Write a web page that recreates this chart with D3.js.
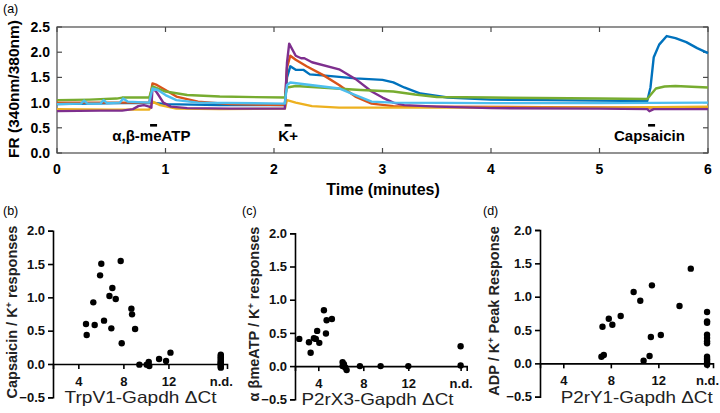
<!DOCTYPE html>
<html><head><meta charset="utf-8">
<script src="https://cdn.jsdelivr.net/npm/d3@7/dist/d3.min.js"></script>
<style>
body{margin:0;background:#fff;}
svg{display:block;font-family:"Liberation Sans",Arial,sans-serif;}
</style></head><body>
<svg id="c" width="720" height="413"></svg>
<script>
// ---------- Panel (a): ratio traces (time in minutes, FR value) ----------
const seriesNames = ["blue","orange","yellow","purple","green","lightblue"];
const seriesColors = ["#0072BD","#D95319","#EDB120","#7E2F8E","#77AC30","#4DBEEE"];
const traceBlue = [[0,0.97],[0.3,0.98],[0.6,0.99],[0.85,0.99],[0.88,1.0],[1.0,0.97],[1.5,0.95],[2.0,0.95],[2.1,0.95],[2.12,1.5],[2.15,1.72],[2.2,1.65],[2.27,1.65],[2.33,1.56],[2.5,1.53],[2.75,1.48],[3.0,1.45],[3.1,1.40],[3.2,1.3],[3.35,1.18],[3.6,1.10],[4.0,1.06],[4.5,1.05],[5.0,1.04],[5.44,1.03],[5.47,1.3],[5.5,1.9],[5.55,2.15],[5.62,2.32],[5.7,2.28],[5.8,2.2],[5.9,2.08],[6.0,1.98]];
const traceOrange = [[0,1.0],[0.5,1.0],[0.85,1.0],[0.88,1.38],[0.92,1.35],[1.0,1.25],[1.1,1.12],[1.3,1.02],[1.6,0.97],[2.1,0.95],[2.12,1.7],[2.15,1.93],[2.2,1.85],[2.3,1.72],[2.45,1.55],[2.6,1.35],[2.75,1.12],[2.9,0.98],[3.1,0.93],[3.5,0.92],[4.5,0.91],[5.45,0.9],[6.0,0.91]];
const traceYellow = [[0,0.87],[0.5,0.86],[0.85,0.86],[0.88,1.02],[0.95,0.95],[1.1,0.88],[1.5,0.87],[2.1,0.88],[2.12,1.05],[2.2,1.0],[2.35,0.93],[2.6,0.9],[3.0,0.9],[4,0.9],[5,0.9],[6,0.92]];
const tracePurple = [[0,0.83],[0.4,0.84],[0.6,0.84],[0.7,0.87],[0.75,0.93],[0.8,0.95],[0.85,0.92],[0.87,0.9],[0.88,1.3],[0.92,1.2],[0.98,1.0],[1.05,0.92],[1.2,0.89],[1.6,0.88],[2.1,0.88],[2.12,1.8],[2.14,2.17],[2.2,1.93],[2.25,1.88],[2.28,1.88],[2.35,1.8],[2.6,1.66],[2.75,1.47],[2.9,1.22],[3.0,1.1],[3.1,1.0],[3.2,0.95],[3.5,0.92],[4.0,0.89],[5.0,0.88],[5.44,0.87],[5.46,0.83],[5.5,0.87],[6.0,0.87]];
const traceGreen = [[0,1.05],[0.3,1.06],[0.55,1.08],[0.6,1.1],[0.85,1.1],[0.88,1.32],[1.0,1.22],[1.2,1.15],[1.5,1.12],[2.1,1.1],[2.12,1.3],[2.2,1.33],[2.5,1.29],[2.8,1.25],[3.1,1.22],[3.3,1.16],[3.5,1.11],[4.0,1.1],[5.0,1.08],[5.44,1.07],[5.47,1.15],[5.52,1.28],[5.6,1.32],[5.7,1.33],[6.0,1.3]];
const traceLightBlue = [[0,0.97],[0.22,0.98],[0.25,1.04],[0.28,0.98],[0.4,0.98],[0.43,1.05],[0.46,0.99],[0.58,1.0],[0.61,1.08],[0.65,1.02],[0.85,1.0],[0.88,1.28],[0.93,1.25],[1.0,1.15],[1.1,1.05],[1.3,1.0],[2.1,0.98],[2.12,1.35],[2.15,1.4],[2.3,1.36],[2.6,1.28],[2.75,1.15],[2.9,1.02],[3.1,1.0],[4,0.99],[5,0.99],[6,1.0]];
const traces = [traceBlue,traceOrange,traceYellow,tracePurple,traceGreen,traceLightBlue];
const timeTicks = [0,1,2,3,4,5,6];
const frTicks = [0,0.5,1.0,1.5,2.0,2.5];
const stimLabels = ["α,β-meATP","K+","Capsaicin"];
const stimTimes = [0.89,2.13,5.48];
const stimLabelTimes = [0.87,2.13,5.46];

// ---------- Panels (b)-(d): scatter ----------
const ND = "n.d.";
const scatterTicksX = [4,8,12,ND];
const scatterTicksY = [-0.5,0,0.5,1.0,1.5,2.0];
// (b) TrpV1
const trpv1X = [4.68,4.74,5.33,5.45,5.93,6.04,6.28,6.76,6.93,7.02,7.32,7.76,7.85,8.71,8.77,9.04,9.42,10.07,10.25,10.3,11.17,11.79,12.18];
const trpv1Y = [0.60,0.435,0.925,0.585,1.33,1.505,0.65,1.02,0.535,1.14,0.975,1.545,0.31,0.83,0.745,0.525,-0.01,-0.01,0.03,-0.03,0.075,0.045,0.17];
const trpv1NdY = [0.14,0.12,0.10,0.08,0.06,0.04,0.02,0.01,0.0,-0.02,-0.04,-0.055];
// (c) P2rX3
const p2rx3X = [2.31,3.17,3.32,3.61,3.78,3.9,4.09,4.5,4.68,4.74,5.21,6.16,6.16,6.28,6.4,6.52,7.7,9.54,12.0];
const p2rx3Y = [0.41,0.36,0.20,0.42,0.41,0.53,0.35,0.84,0.49,0.69,0.71,0.06,0.0,0.03,-0.02,-0.06,0.0,0.0,0.0];
const p2rx3NdY = [0.30,0.01];
// (d) P2rY1
const p2ry1X = [7.21,7.41,7.30,7.83,8.13,8.83,9.92,10.48,10.76,11.26,11.37,11.46,12.21,13.78,14.73];
const p2ry1Y = [0.10,0.125,0.55,0.67,0.58,0.71,1.07,0.94,0.04,0.11,0.395,1.17,0.425,0.86,1.42];
const p2ry1NdY = [0.77,0.63,0.61,0.43,0.38,0.33,0.30,0.10,0.07,0.05,0.02,0.0,-0.02];

const svg = d3.select("#c");
const font = '"Liberation Sans",Arial,sans-serif';

// ===== Panel (a) =====
const ax = d3.scaleLinear().domain([0,6]).range([57,708]);
const ay = d3.scaleLinear().domain([0,2.5]).range([153,27]);
const gA = svg.append("g");
const boxColor = "#4a4a4a";
gA.append("rect").attr("x",ax(0)).attr("y",ay(2.5)).attr("width",ax(6)-ax(0)).attr("height",ay(0)-ay(2.5))
  .attr("fill","none").attr("stroke",boxColor).attr("stroke-width",1.2);
const tl = 5;
timeTicks.forEach(t=>{
  gA.append("line").attr("x1",ax(t)).attr("x2",ax(t)).attr("y1",ay(0)).attr("y2",ay(0)-tl).attr("stroke",boxColor).attr("stroke-width",1.2);
  gA.append("line").attr("x1",ax(t)).attr("x2",ax(t)).attr("y1",ay(2.5)).attr("y2",ay(2.5)+tl).attr("stroke",boxColor).attr("stroke-width",1.2);
  gA.append("text").attr("x",ax(t)).attr("y",174).attr("text-anchor","middle")
    .attr("font-size",14).attr("font-weight","bold").text(t);
});
frTicks.forEach(v=>{
  gA.append("line").attr("x1",ax(0)).attr("x2",ax(0)+tl).attr("y1",ay(v)).attr("y2",ay(v)).attr("stroke",boxColor).attr("stroke-width",1.2);
  gA.append("line").attr("x1",ax(6)).attr("x2",ax(6)-tl).attr("y1",ay(v)).attr("y2",ay(v)).attr("stroke",boxColor).attr("stroke-width",1.2);
  gA.append("text").attr("x",50).attr("y",ay(v)).attr("dy","0.36em").attr("text-anchor","end")
    .attr("font-size",14).attr("font-weight","bold").text(d3.format(".1f")(v));
});
const line = d3.line().x(d=>ax(d[0])).y(d=>ay(d[1]));
traces.forEach((tr,i)=>{
  gA.append("path").datum(tr).attr("d",line).attr("fill","none")
    .attr("stroke",seriesColors[i]).attr("stroke-width",2.4).attr("stroke-linejoin","round");
});
stimTimes.forEach((t,i)=>{
  gA.append("rect").attr("x",ax(t)-3.5).attr("y",124).attr("width",7).attr("height",2.6).attr("fill","#000");
  gA.append("text").attr("x",ax(stimLabelTimes[i])).attr("y",141).attr("text-anchor","middle")
    .attr("font-size",15).attr("font-weight","bold").text(stimLabels[i]);
});
gA.append("text").attr("x",383).attr("y",195).attr("text-anchor","middle").attr("font-size",16).attr("font-weight","bold").text("Time (minutes)");
gA.append("text").attr("transform","translate(19,89) rotate(-90)").attr("text-anchor","middle").attr("font-size",15.5).attr("font-weight","bold").text("FR (340nm/380nm)");
gA.append("text").attr("x",3).attr("y",13).attr("font-size",12.5).text("(a)");

// ===== Scatter panels =====
function scatterPanel(cfg){
  const g = svg.append("g");
  const ndVal = cfg.nd;
  const x = d3.scaleLinear().domain(cfg.xd).range(cfg.xr);
  const y = d3.scaleLinear().domain([-0.5,2.0]).range(cfg.yr);
  const tickVals = scatterTicksX.map(v=> v===ND ? ndVal : v);
  const xAxis = d3.axisBottom(x).tickValues(tickVals).tickSize(5).tickPadding(3)
    .tickFormat(v=> v===ndVal ? ND : v);
  const gx = g.append("g").attr("transform",`translate(0,${y(0)})`).call(xAxis);
  const yAxis = d3.axisLeft(y).tickValues(scatterTicksY).tickSize(5).tickPadding(3).tickFormat(d3.format(".1f"));
  const gy = g.append("g").attr("transform",`translate(${cfg.xr[0]},0)`).call(yAxis);
  [gx,gy].forEach(a=>{
    a.selectAll("path,line").attr("stroke","#000").attr("stroke-width",1.6);
    a.selectAll("text").attr("font-family",font).attr("font-size",13).attr("font-weight","bold").attr("fill","#111");
  });
  gx.selectAll(".tick text").attr("dy","1.05em");
  const pts = cfg.xs.map((v,i)=>[v,cfg.ys[i]]).concat(cfg.ndY.map(v=>[ndVal,v]));
  g.selectAll("circle").data(pts).join("circle").attr("cx",d=>x(d[0])).attr("cy",d=>y(d[1])).attr("r",3.2).attr("fill","#000");
  g.append("text").attr("transform",`translate(${cfg.ylx},${cfg.yly}) rotate(-90)`).attr("text-anchor","middle")
    .attr("font-size",14.5).attr("font-weight","bold").attr("fill","#222").html(cfg.ylabel);
  g.append("text").attr("x",cfg.xlx).attr("y",cfg.xly).attr("text-anchor","middle")
    .attr("font-size",16.5).attr("fill","#222")
    .attr("textLength",152).attr("lengthAdjust","spacingAndGlyphs").text(cfg.xlabel);
  g.append("text").attr("x",cfg.tagx).attr("y",215).attr("font-size",12.5).text(cfg.tag);
}
scatterPanel({xd:[1.75,17.2],xr:[53,227],yr:[397.3,230.7],nd:16.65,xs:trpv1X,ys:trpv1Y,ndY:trpv1NdY,
  ylabel:'Capsaicin / K<tspan dy="-5" font-size="9">+</tspan><tspan dy="5"> responses</tspan>',ylx:17,yly:312,
  xlabel:"TrpV1-Gapdh ΔCt",xlx:140.5,xly:403,tag:"(b)",tagx:3});
scatterPanel({xd:[1.93,17.19],xr:[295,466.7],yr:[399.3,233.3],nd:16.65,xs:p2rx3X,ys:p2rx3Y,ndY:p2rx3NdY,
  ylabel:'α βmeATP / K<tspan dy="-5" font-size="9">+</tspan><tspan dy="5"> responses</tspan>',ylx:259,yly:314,
  xlabel:"P2rX3-Gapdh ΔCt",xlx:377.5,xly:405,tag:"(c)",tagx:242});
scatterPanel({xd:[2.04,16.6],xr:[540,713],yr:[396.7,230],nd:16.1,xs:p2ry1X,ys:p2ry1Y,ndY:p2ry1NdY,
  ylabel:'ADP / K<tspan dy="-5" font-size="9">+</tspan><tspan dy="5"> Peak Response</tspan>',ylx:499,yly:311,
  xlabel:"P2rY1-Gapdh ΔCt",xlx:636.7,xly:403,tag:"(d)",tagx:483});
</script>
</body></html>
